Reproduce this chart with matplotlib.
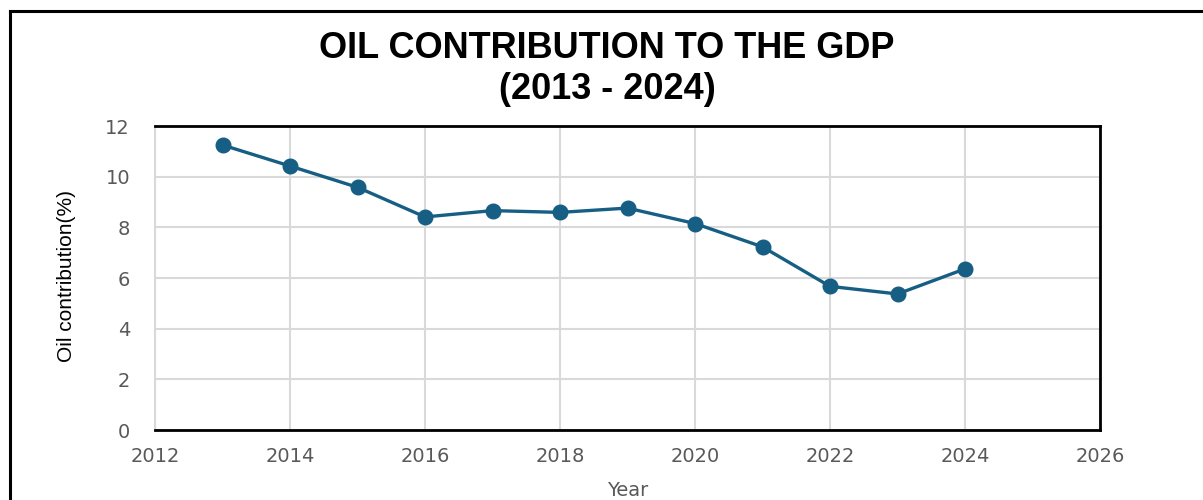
import matplotlib
matplotlib.use('Agg')
from matplotlib import pyplot
from matplotlib.lines import Line2D

years = [2013, 2014, 2015, 2016, 2017, 2018, 2019, 2020, 2021, 2022, 2023, 2024]
oil_share = [11.25, 10.42, 9.58, 8.41, 8.66, 8.59, 8.76, 8.15, 7.23, 5.67, 5.37, 6.36]
x_ticks = [2012, 2014, 2016, 2018, 2020, 2022, 2024, 2026]
y_ticks = [0, 2, 4, 6, 8, 10, 12]

line_color = '#165e83'
grid_color = '#d9d9d9'
tick_color = '#595959'


def plot_oil_contribution():
	'''
	Oil contribution to GDP, 2013 - 2024
	'''
	fig = pyplot.figure(figsize=(12.03, 5.0), dpi=100)
	ax = fig.add_axes([155/1203, 70/500, 945/1203, 304/500])

	ax.plot(years, oil_share, color=line_color, lw=2.4, marker='o',
			markersize=10.5, markerfacecolor=line_color, markeredgecolor=line_color, zorder=3)

	ax.set_xlim(2012, 2026)
	ax.set_ylim(0, 12)
	ax.set_xticks(x_ticks)
	ax.set_yticks(y_ticks)
	ax.grid(True, color=grid_color, lw=1.5, zorder=0)
	ax.set_axisbelow(True)

	for side in ['top', 'right', 'bottom']:
		ax.spines[side].set_color('black')
		ax.spines[side].set_linewidth(2.0)
	ax.spines['left'].set_color(grid_color)
	ax.spines['left'].set_linewidth(1.5)

	ax.tick_params(axis='both', length=0, labelcolor=tick_color, labelsize=14)
	ax.tick_params(axis='x', pad=12)
	ax.tick_params(axis='y', pad=18)
	for lab in ax.get_xticklabels() + ax.get_yticklabels():
		lab.set_family('DejaVu Sans')

	fig.text(67/1203, 1 - 276/500, 'Oil contribution(%)', rotation=90, ha='center', va='center',
			fontsize=15, family='Liberation Sans', color='black')
	fig.text(628/1203, 1 - 490/500, 'Year', ha='center', va='center',
			fontsize=14, family='DejaVu Sans', color=tick_color)

	fig.text(607/1203, 1 - 48/500, 'OIL CONTRIBUTION TO THE GDP', ha='center', va='center',
			fontsize=26, fontweight='bold', family='Liberation Sans', color='black')
	fig.text(607/1203, 1 - 90/500, '(2013 - 2024)', ha='center', va='center',
			fontsize=26, fontweight='bold', family='Liberation Sans', color='black')

	# outer frame of the chart box (runs off the right and bottom edges)
	fx = 10/1203
	fy = 1 - 11/500
	fig.add_artist(Line2D([fx, fx], [0, fy], transform=fig.transFigure, color='black', lw=2.2))
	fig.add_artist(Line2D([fx, 1], [fy, fy], transform=fig.transFigure, color='black', lw=2.2))

	pyplot.savefig('out.png', dpi=100)
	pyplot.close()


if __name__ == "__main__":
	plot_oil_contribution()
